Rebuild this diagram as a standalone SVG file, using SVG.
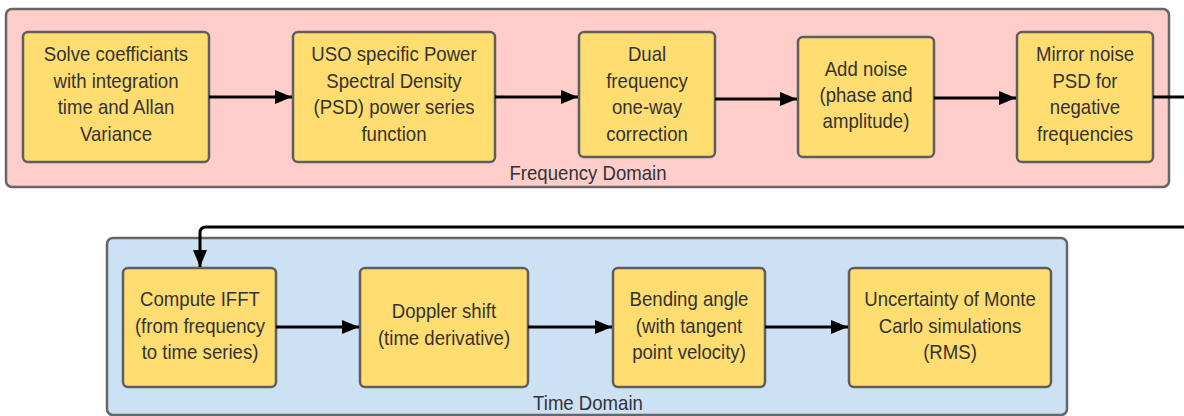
<svg xmlns="http://www.w3.org/2000/svg" width="1184" height="416" viewBox="0 0 1184 416">
<style>
.grp{stroke:#666;stroke-width:2.5}
.freq{fill:#ffcecb}
.time{fill:#cce1f4}
.node rect{fill:#ffdd71;stroke:#5e5e5e;stroke-width:2.5}
text{font-family:"Liberation Sans",Arial,sans-serif;font-size:20px;fill:#333;text-anchor:middle}
.conn{stroke:#000;stroke-width:3;fill:none}
</style>
<defs>
<marker id="ah" markerUnits="userSpaceOnUse" markerWidth="18" markerHeight="14" refX="17" refY="7" orient="auto">
<path d="M0,0 L17,7 L0,14 Z" fill="#000"/>
</marker>
</defs>
<g id="frequency-domain">
<rect class="grp freq" x="6" y="9" width="1163" height="178" rx="6"/>
<text transform="translate(588 0) scale(0.93 1)" x="0" y="180">Frequency Domain</text>
</g>
<g id="time-domain">
<rect class="grp time" x="107" y="238" width="960" height="177" rx="6"/>
<text transform="translate(588 0) scale(0.93 1)" x="0" y="410">Time Domain</text>
</g>
<g id="n1" class="node">
<rect x="23" y="32" width="186" height="130" rx="5"/>
<g transform="translate(116 0) scale(0.93 1)"><text x="0" y="61.5">Solve coefficiants</text><text x="0" y="88">with integration</text><text x="0" y="114.5">time and Allan</text><text x="0" y="141">Variance</text></g>
</g>
<g id="n2" class="node">
<rect x="293" y="32" width="202" height="130" rx="5"/>
<g transform="translate(394 0) scale(0.93 1)"><text x="0" y="61.5">USO specific Power</text><text x="0" y="88">Spectral Density</text><text x="0" y="114.5">(PSD) power series</text><text x="0" y="141">function</text></g>
</g>
<g id="n3" class="node">
<rect x="579" y="32" width="136" height="125" rx="5"/>
<g transform="translate(647 0) scale(0.93 1)"><text x="0" y="61.5">Dual</text><text x="0" y="88">frequency</text><text x="0" y="114.5">one-way</text><text x="0" y="141">correction</text></g>
</g>
<g id="n4" class="node">
<rect x="798" y="37" width="136" height="120" rx="5"/>
<g transform="translate(866 0) scale(0.93 1)"><text x="0" y="76">Add noise</text><text x="0" y="102">(phase and</text><text x="0" y="128">amplitude)</text></g>
</g>
<g id="n5" class="node">
<rect x="1017" y="32" width="136" height="130" rx="5"/>
<g transform="translate(1085 0) scale(0.93 1)"><text x="0" y="61.5">Mirror noise</text><text x="0" y="88">PSD for</text><text x="0" y="114.5">negative</text><text x="0" y="141">frequencies</text></g>
</g>
<g id="n6" class="node">
<rect x="123" y="268" width="153" height="119" rx="5"/>
<g transform="translate(200 0) scale(0.93 1)"><text x="0" y="306.5">Compute IFFT</text><text x="0" y="333">(from frequency</text><text x="0" y="359">to time series)</text></g>
</g>
<g id="n7" class="node">
<rect x="360" y="268" width="168" height="119" rx="5"/>
<g transform="translate(444 0) scale(0.93 1)"><text x="0" y="318">Doppler shift</text><text x="0" y="345">(time derivative)</text></g>
</g>
<g id="n8" class="node">
<rect x="613" y="268" width="152" height="119" rx="5"/>
<g transform="translate(689 0) scale(0.93 1)"><text x="0" y="306.5">Bending angle</text><text x="0" y="333">(with tangent</text><text x="0" y="359">point velocity)</text></g>
</g>
<g id="n9" class="node">
<rect x="849" y="268" width="202" height="119" rx="5"/>
<g transform="translate(950 0) scale(0.93 1)"><text x="0" y="306.5">Uncertainty of Monte</text><text x="0" y="333">Carlo simulations</text><text x="0" y="359">(RMS)</text></g>
</g>
<g id="connectors">
<path class="conn" d="M209,97 H292" marker-end="url(#ah)"/>
<path class="conn" d="M495,97 H578" marker-end="url(#ah)"/>
<path class="conn" d="M715,99 H797" marker-end="url(#ah)"/>
<path class="conn" d="M934,98 H1016" marker-end="url(#ah)"/>
<path class="conn" d="M1153,97 H1186"/>
<path class="conn" d="M1186,227 H206 Q200,227 200,233 V267" marker-end="url(#ah)"/>
<path class="conn" d="M276,327 H359" marker-end="url(#ah)"/>
<path class="conn" d="M528,327 H612" marker-end="url(#ah)"/>
<path class="conn" d="M765,327 H848" marker-end="url(#ah)"/>
</g>
</svg>
